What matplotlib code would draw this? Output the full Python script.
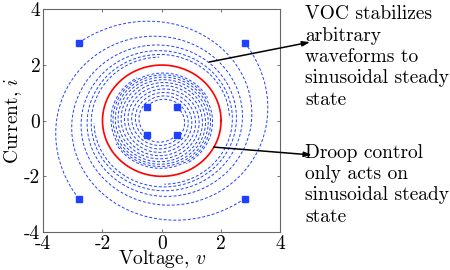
import numpy as np
import matplotlib
matplotlib.use('Agg')
import matplotlib.pyplot as plt

plt.rcParams['font.family'] = ['cmr10', 'DejaVu Serif']
plt.rcParams['mathtext.fontset'] = 'cm'
plt.rcParams['axes.unicode_minus'] = False
plt.rcParams['axes.formatter.use_mathtext'] = False

# initial conditions (voltage, current)
inner_v = [-0.5, 0.5, 0.5, -0.5]
inner_i = [0.5, 0.5, -0.5, -0.5]
outer_v = [-2.8, 2.8, 2.8, -2.8]
outer_i = [2.8, 2.8, -2.8, -2.8]

# oscillator settings / run lengths for each group
alpha = 0.16
t_inner = 16.0
t_outer = 8.6
r_ss = 2.0   # sinusoidal steady state amplitude

ticks = [-4, -2, 0, 2, 4]
note_voc = 'VOC stabilizes\narbitrary\nwaveforms to\nsinusoidal steady\nstate'
note_droop = 'Droop control\nonly acts on\nsinusoidal steady\nstate'


def osc(s):
    v, i = s
    g = alpha*(1.0 - np.hypot(v, i)/r_ss)
    return np.array([i + g*v, -v + g*i])


def simulate(v0, i0, t_end, dt=0.01):
    n = int(t_end/dt)
    out = np.zeros((n+1, 2))
    s = np.array([v0, i0], dtype=float)
    out[0] = s
    for k in range(n):
        k1 = osc(s)
        k2 = osc(s + 0.5*dt*k1)
        k3 = osc(s + 0.5*dt*k2)
        k4 = osc(s + dt*k3)
        s = s + dt/6.0*(k1 + 2*k2 + 2*k3 + k4)
        out[k+1] = s
    return out


fig = plt.figure(figsize=(4.5, 2.7), dpi=100)
ax = fig.add_axes([0.096, 0.141, 0.527, 0.824])

blue = '#2040ff'
for v0, i0 in zip(inner_v, inner_i):
    tr = simulate(v0, i0, t_inner)
    ax.plot(tr[:, 0], tr[:, 1], '--', color=blue, lw=0.7, dashes=(3, 2))
for v0, i0 in zip(outer_v, outer_i):
    tr = simulate(v0, i0, t_outer)
    ax.plot(tr[:, 0], tr[:, 1], '--', color=blue, lw=0.7, dashes=(3, 2))

ax.plot(inner_v + outer_v, inner_i + outer_i, 's', color=blue, ms=4.5, mec=blue)

th = np.linspace(0, 2*np.pi, 400)
ax.plot(r_ss*np.cos(th), r_ss*np.sin(th), '-', color='red', lw=1.2)

ax.set_xlim(-4, 4)
ax.set_ylim(-4, 4)
ax.set_xticks(ticks)
ax.set_yticks(ticks)
ax.tick_params(direction='in', top=True, right=True, length=2.5, width=0.6,
               labelsize=14, colors='0.35', labelcolor='black', pad=2)
for sp in ax.spines.values():
    sp.set_color('0.4')
    sp.set_linewidth(0.8)
ax.set_xlabel('Voltage, $v$', fontsize=14, labelpad=-3)
ax.set_ylabel('Current, $i$', fontsize=14, labelpad=0)

fig.text(0.678, 0.98, note_voc, fontsize=14, va='top', ha='left', linespacing=1.24)
fig.text(0.678, 0.468, note_droop, fontsize=14, va='top', ha='left', linespacing=1.24)

arrow = dict(arrowstyle='-|>,head_length=0.45,head_width=0.15', color='black', lw=1.1,
             shrinkA=0, shrinkB=0)
ax.annotate('', xy=(0.689, 0.844), xycoords='figure fraction',
            xytext=(1.6, 2.11), textcoords='data', arrowprops=arrow,
            annotation_clip=False)
ax.annotate('', xy=(0.693, 0.426), xycoords='figure fraction',
            xytext=(1.76, -0.95), textcoords='data', arrowprops=arrow,
            annotation_clip=False)

fig.savefig('out.png', dpi=100)
